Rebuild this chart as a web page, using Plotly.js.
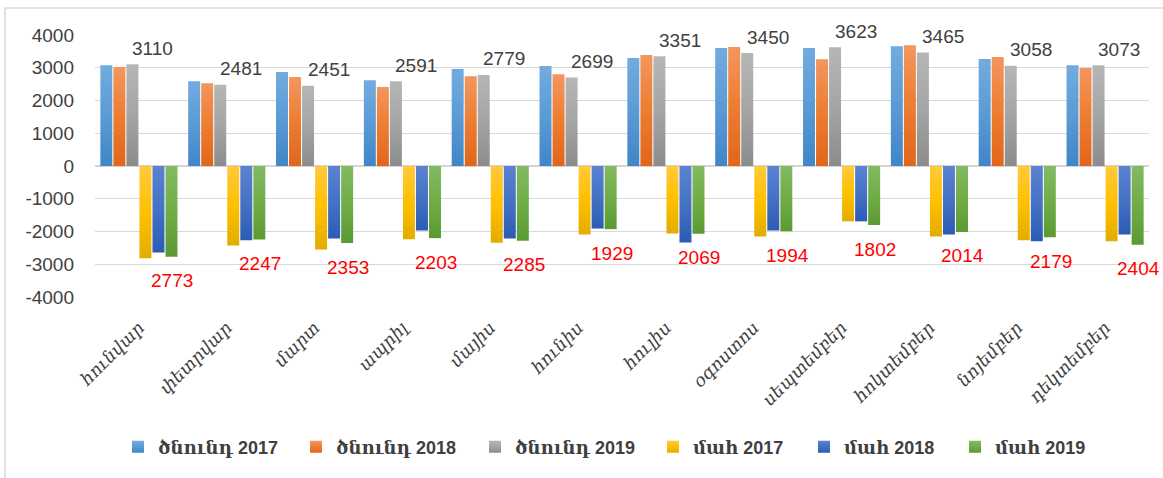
<!DOCTYPE html>
<html>
<head>
<meta charset="utf-8">
<script src="https://cdn.plot.ly/plotly-3.0.1.min.js"></script>
<style>
  html, body { margin: 0; padding: 0; background: #ffffff; }
  #chart { width: 1163px; height: 478px; }
</style>
</head>
<body>
<div id="chart"></div>
<script>
const months = ['հունվար', 'փետրվար', 'մարտ', 'ապրիլ', 'մայիս', 'հունիս', 'հուլիս', 'օգոստոս', 'սեպտեմբեր', 'հոկտեմբեր', 'նոյեմբեր', 'դեկտեմբեր'];
const seriesNames = ['ծնունդ 2017', 'ծնունդ 2018', 'ծնունդ 2019', 'մահ 2017', 'մահ 2018', 'մահ 2019'];

const births2017 = [3080, 2590, 2870, 2620, 2960, 3050, 3300, 3600, 3600, 3660, 3270, 3080];
const births2018 = [3020, 2530, 2720, 2410, 2740, 2800, 3390, 3630, 3260, 3690, 3330, 2990];
const births2019 = [3110, 2481, 2451, 2591, 2779, 2699, 3351, 3450, 3623, 3465, 3058, 3073];
const deaths2017 = [2820, 2430, 2550, 2240, 2340, 2090, 2060, 2150, 1690, 2150, 2270, 2300];
const deaths2018 = [2640, 2270, 2210, 1970, 2210, 1910, 2335, 1970, 1690, 2090, 2300, 2090];
const deaths2019 = [2773, 2247, 2353, 2203, 2285, 1929, 2069, 1994, 1802, 2014, 2179, 2404];

const yTicks = [-4000, -3000, -2000, -1000, 0, 1000, 2000, 3000, 4000];

const baseColors = ['#5b9bd5', '#ed7d31', '#a5a5a5', '#ffc000', '#4472c4', '#70ad47'];
const gradStops = [
  ['#72abdf', '#3f86c6'],
  ['#f3965f', '#e0661a'],
  ['#b6b6b6', '#8c8c8c'],
  ['#ffca3c', '#e2ad00'],
  ['#5c82d1', '#2c5bb4'],
  ['#82ba62', '#5a9a33']
];

const seriesValues = [
  births2017, births2018, births2019,
  deaths2017.map(v => -v), deaths2018.map(v => -v), deaths2019.map(v => -v)
];

const legendIds = ['legend', 'legend2', 'legend3', 'legend4', 'legend5', 'legend6'];
const legendLeftPx = [118, 296, 475, 653, 804, 955];

const traces = seriesValues.map((vals, i) => ({
  type: 'bar',
  name: seriesNames[i],
  legend: legendIds[i],
  x: months,
  y: vals,
  marker: { color: baseColors[i], line: { width: 0 } },
  hoverinfo: 'none'
}));

const numFont = { family: 'Liberation Sans, Arial, sans-serif', size: 19, color: '#404040' };

const annotations = [];
months.forEach((m, i) => {
  annotations.push({
    xref: 'x', yref: 'y', x: m, y: births2019[i],
    text: String(births2019[i]), showarrow: false,
    xshift: 14, yshift: 16,
    font: numFont
  });
  annotations.push({
    xref: 'x', yref: 'y', x: m, y: -deaths2019[i],
    text: String(deaths2019[i]), showarrow: false,
    xshift: 33.5, yshift: -24,
    font: { family: numFont.family, size: 19, color: '#ff0000' }
  });
});

const W = 1163, H = 478, ML = 95, MR = 14, MT = 35, MB = 181;
const pw = W - ML - MR, ph = H - MT - MB;
const px2x = p => (p - ML) / pw;
const px2y = p => (H - MB - p) / ph;

const legendFont = { family: 'Liberation Sans, DejaVu Serif, sans-serif', size: 18, color: '#404040', weight: 'bold' };

const layout = {
  width: W, height: H,
  margin: { l: ML, r: MR, t: MT, b: MB, pad: 0 },
  paper_bgcolor: '#ffffff',
  plot_bgcolor: '#ffffff',
  barmode: 'group',
  bargap: 0.11,
  bargroupgap: 0.08,
  showlegend: true,
  xaxis: {
    type: 'category',
    range: [-0.5, months.length - 0.5],
    automargin: false,
    tickangle: -45,
    ticks: '',
    showline: false,
    showgrid: false,
    zeroline: false,
    ticklabelstandoff: 16,
    tickfont: { family: 'DejaVu Serif, serif', size: 17.5, color: '#404040', style: 'italic' },
    fixedrange: true
  },
  yaxis: {
    automargin: false,
    range: [-4000, 4000],
    tickvals: yTicks,
    ticktext: yTicks.map(String),
    showgrid: true,
    gridcolor: '#d9d9d9',
    gridwidth: 1.3,
    zeroline: true,
    zerolinecolor: '#d4d4d4',
    zerolinewidth: 2,
    showline: false,
    ticks: '',
    ticklabelstandoff: 20,
    tickfont: numFont,
    fixedrange: true
  },
  annotations: annotations,
  shapes: [{
    type: 'path', xref: 'paper', yref: 'paper',
    path: 'M' + px2x(5) + ',' + px2y(495) + ' L' + px2x(5) + ',' + px2y(8) + ' L' + px2x(1180) + ',' + px2y(8),
    line: { color: '#d9d9d9', width: 1.5 }, layer: 'below'
  }]
};

legendIds.forEach((id, i) => {
  layout[id] = {
    orientation: 'h',
    xref: 'container', yref: 'container',
    x: legendLeftPx[i] / W, xanchor: 'left',
    y: 1 - 447 / H, yanchor: 'middle',
    font: legendFont,
    bgcolor: 'rgba(0,0,0,0)',
    itemclick: false, itemdoubleclick: false
  };
});

Plotly.newPlot('chart', traces, layout, { displayModeBar: false, staticPlot: true }).then(gd => {
  const svgNS = 'http://www.w3.org/2000/svg';
  const svg = gd.querySelector('svg.main-svg');
  let defs = svg.querySelector('defs');
  if (!defs) { defs = document.createElementNS(svgNS, 'defs'); svg.insertBefore(defs, svg.firstChild); }
  gradStops.forEach((st, i) => {
    const lg = document.createElementNS(svgNS, 'linearGradient');
    lg.setAttribute('id', 'bargrad' + i);
    lg.setAttribute('x1', '0'); lg.setAttribute('y1', '0');
    lg.setAttribute('x2', '0'); lg.setAttribute('y2', '1');
    [[0, st[0]], [0.5, baseColors[i]], [1, st[1]]].forEach(([o, c]) => {
      const s = document.createElementNS(svgNS, 'stop');
      s.setAttribute('offset', o);
      s.setAttribute('stop-color', c);
      lg.appendChild(s);
    });
    defs.appendChild(lg);
  });
  gd.querySelectorAll('.barlayer .trace').forEach((tr, i) => {
    tr.querySelectorAll('path').forEach(p => { p.style.fill = 'url(#bargrad' + i + ')'; });
  });
  legendIds.forEach((id, i) => {
    gd.querySelectorAll('.' + id + ' .legendpoints path').forEach(p => { p.style.fill = 'url(#bargrad' + i + ')'; });
  });
});
</script>
</body>
</html>
